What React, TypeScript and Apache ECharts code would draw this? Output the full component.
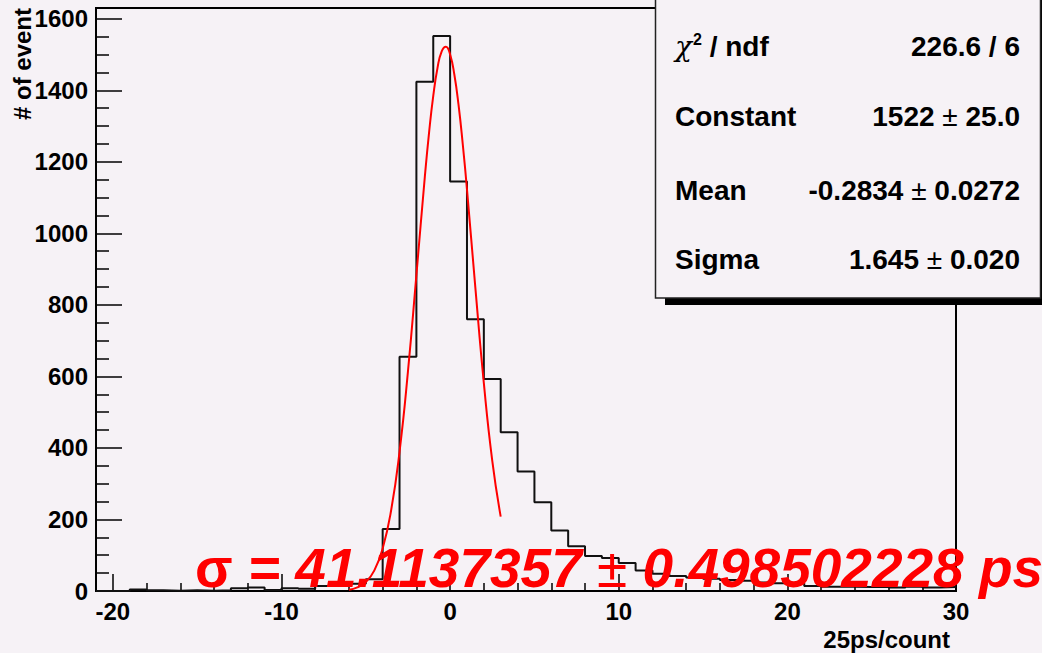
import React, { useEffect, useRef } from "react";
import * as echarts from "echarts";

// ---- data ----
const binLow = [
  -21, -20, -19, -18, -17, -16, -15, -14, -13, -12, -11, -10, -9, -8, -7, -6, -5, -4, -3, -2, -1,
  0, 1, 2, 3, 4, 5, 6, 7, 8, 9, 10, 11, 12, 13, 14, 15, 16, 17, 18, 19, 20, 21, 22, 23, 24, 25,
  26, 27, 28, 29,
];
const binHigh = 30;
const counts = [
  0, 0, 4, 2, 1, 2, 1, 2, 8, 10, 3, 8, 6, 14, 16, 20, 33, 173, 655, 1424, 1552,
  1145, 760, 593, 444, 334, 248, 169, 125, 98, 92, 78, 57, 48, 42, 38, 34, 31, 29, 24, 22, 22, 14,
  12, 12, 11, 12, 10, 12, 10, 11,
];
const fitX = [-6, -5.5, -5, -4.5, -4, -3.5, -3, -2.5, -2, -1.5, -1.25, -1, -0.75, -0.5, -0.25, 0, 0.25, 0.5, 0.75, 1, 1.5, 2, 2.5, 3];
const fitY = [3.6, 10, 25, 57, 119, 225, 389, 614, 883, 1158, 1281, 1384, 1462, 1509, 1522, 1500, 1444, 1359, 1249, 1123, 846, 581, 364, 208];

const statLabels = ["{chi|χ}{sup|2} / ndf", "Constant", "Mean", "Sigma"];
const statValues = ["226.6 / 6", "1522 {pm|±} 25.0", "-0.2834 {pm|±} 0.0272", "1.645 {pm|±} 0.020"];
const yTitle = "# of event";
const xTitle = "25ps/count";
const sigmaText = "{s|σ} = 41.1137357 {pm|±} 0.498502228 ps";

const BG = "#f6f2f6";
const FONT = "'Liberation Sans', Arial, Helvetica, sans-serif";

export default function App() {
  const ref = useRef<HTMLDivElement>(null);
  useEffect(() => {
    if (!ref.current) return;
    const chart = echarts.init(ref.current, undefined, { renderer: "svg" });
    const histData = binLow.map((x, i) => [x, counts[i]]);
    histData.push([binHigh, counts[counts.length - 1]]);
    const fitData = fitX.map((x, i) => [x, fitY[i]]);

    const rowY = [46, 116, 190, 259];
    const statEls: any[] = [];
    statLabels.forEach((t, i) => {
      statEls.push({
        type: "text",
        x: 675,
        y: rowY[i],
        z: 102,
        style: {
          text: t,
          fill: "#000",
          font: `bold 28px ${FONT}`,
          align: "left",
          verticalAlign: "middle",
          rich: {
            chi: { fontSize: 28, fontWeight: "normal", fontFamily: "'DejaVu Serif', serif", fontStyle: "italic" },
            sup: { fontSize: 16, fontWeight: "bold", fontFamily: FONT, verticalAlign: "top", padding: [0, 0, 14, 1] },
          },
        },
      });
      statEls.push({
        type: "text",
        x: 1020,
        y: rowY[i],
        z: 102,
        style: {
          text: statValues[i],
          fill: "#000",
          font: `bold 28px ${FONT}`,
          align: "right",
          verticalAlign: "middle",
          rich: {
            pm: { fontSize: 28, fontWeight: "normal", fontFamily: FONT },
          },
        },
      });
    });

    chart.setOption({
      animation: false,
      backgroundColor: BG,
      grid: {
        left: 96,
        right: 86,
        top: 8,
        bottom: 62,
        show: true,
        borderColor: "#000",
        borderWidth: 2,
        outerBoundsMode: "none",
      },
      xAxis: {
        type: "value",
        min: -21,
        max: 30,
        splitNumber: 5,
        axisLine: { show: true, onZero: false, lineStyle: { color: "#000", width: 2 } },
        axisTick: { show: true, inside: true, length: 17, lineStyle: { color: "#000", width: 1.5 } },
        minorTick: { show: true, splitNumber: 5, length: 8, lineStyle: { color: "#000", width: 1.5 } },
        splitLine: { show: false },
        axisLabel: {
          showMinLabel: false,
          color: "#000",
          fontWeight: "bold",
          fontSize: 24,
          fontFamily: FONT,
          margin: 8,
          formatter: (v: number) => String(v),
        },
      },
      yAxis: {
        type: "value",
        min: 0,
        max: 1630,
        interval: 200,
        axisLine: { show: true, onZero: false, lineStyle: { color: "#000", width: 2 } },
        axisTick: { show: true, inside: true, length: 26, lineStyle: { color: "#000", width: 1.5 } },
        minorTick: { show: true, splitNumber: 4, length: 13, lineStyle: { color: "#000", width: 1.5 } },
        splitLine: { show: false },
        axisLabel: {
          showMaxLabel: false,
          color: "#000",
          fontWeight: "bold",
          fontSize: 24,
          fontFamily: FONT,
          margin: 8,
          formatter: (v: number) => String(v),
        },
      },
      series: [
        {
          type: "line",
          name: "hist",
          data: histData,
          step: "end",
          symbol: "none",
          lineStyle: { color: "#111", width: 2 },
          z: 3,
        },
        {
          type: "line",
          name: "fit",
          data: fitData,
          smooth: true,
          symbol: "none",
          lineStyle: { color: "#ff0000", width: 2 },
          z: 4,
        },
      ],
      graphic: [
        {
          type: "rect",
          z: 100,
          shape: { x: 665, y: -20, width: 400, height: 325 },
          style: { fill: "#000" },
        },
        {
          type: "rect",
          z: 101,
          shape: { x: 655.5, y: -20, width: 385, height: 318 },
          style: { fill: BG, stroke: "#222", lineWidth: 1.5 },
        },
        ...statEls,
        {
          type: "text",
          x: 22,
          y: 8,
          rotation: Math.PI / 2,
          z: 102,
          style: {
            text: yTitle,
            fill: "#000",
            font: `bold 24px ${FONT}`,
            align: "right",
            verticalAlign: "middle",
          },
        },
        {
          type: "text",
          x: 950,
          y: 639,
          z: 102,
          style: {
            text: xTitle,
            fill: "#000",
            font: `bold 24px ${FONT}`,
            align: "right",
            verticalAlign: "middle",
          },
        },
        {
          type: "text",
          x: 195,
          y: 568,
          z: 103,
          style: {
            text: sigmaText,
            fill: "#ff0000",
            font: `italic bold 55px ${FONT}`,
            align: "left",
            verticalAlign: "middle",
            rich: {
              s: { fontSize: 55, fontStyle: "normal", fontWeight: "bold", fontFamily: FONT, fill: "#ff0000" },
              pm: { fontSize: 55, fontStyle: "normal", fontWeight: "normal", fontFamily: FONT, fill: "#ff0000" },
            },
          },
        },
      ],
    });
    return () => chart.dispose();
  }, []);
  return (
    <div
      ref={ref}
      style={{ position: "fixed", left: 0, top: 0, width: 1042, height: 653 }}
    />
  );
}
